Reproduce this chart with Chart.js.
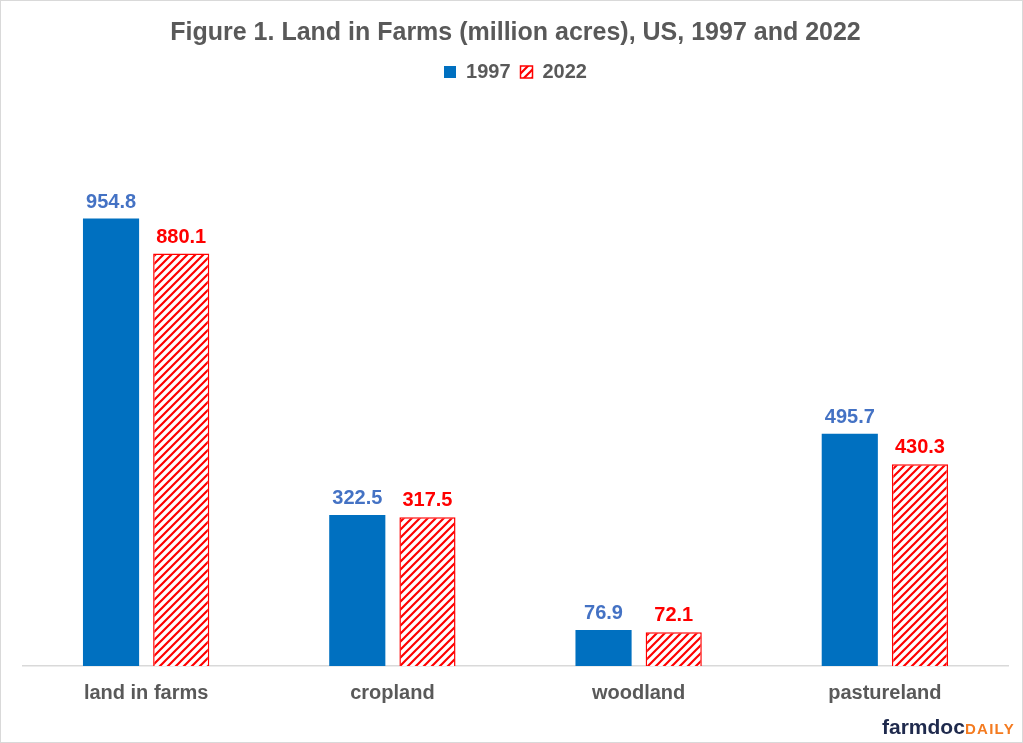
<!DOCTYPE html>
<html><head><meta charset="utf-8">
<script src="https://cdn.jsdelivr.net/npm/chart.js@4"></script>
<style>
html,body{margin:0;padding:0;background:#fff;}
#wrap{position:relative;width:1021px;height:741px;border:1px solid #d9d9d9;}
#c{position:absolute;left:0;top:0;}
#logo{position:absolute;right:7px;top:714px;font-family:"Liberation Sans",Arial,sans-serif;font-weight:bold;font-size:21px;color:#1f2a4d;white-space:nowrap;}
#logo span{color:#f47b20;font-size:15px;letter-spacing:1.3px;}
</style></head>
<body>
<div id="wrap"><canvas id="c" width="1021" height="741"></canvas><div id="logo">farmdoc<span>DAILY</span></div></div>
<script>
const categories = ["land in farms","cropland","woodland","pastureland"];
const values1997 = [954.8, 322.5, 76.9, 495.7];
const values2022 = [880.1, 317.5, 72.1, 430.3];
const seriesNames = ["1997","2022"];

function hatch(){
  const s=8, p=document.createElement('canvas');p.width=s;p.height=s;
  const g=p.getContext('2d');
  g.fillStyle='#fff';g.fillRect(0,0,s,s);
  g.strokeStyle='#ff0000';g.lineWidth=2.2;
  g.beginPath();
  g.moveTo(0,s);g.lineTo(s,0);
  g.moveTo(-s/2,s/2);g.lineTo(s/2,-s/2);
  g.moveTo(s/2,s+s/2);g.lineTo(s+s/2,s/2);
  g.stroke();
  return g.createPattern(p,'repeat');
}
const ctx=document.getElementById('c').getContext('2d');
const pat=hatch();

const labelPlugin={id:'vals',afterDatasetsDraw(chart){
  const c=chart.ctx;
  chart.data.datasets.forEach((ds,i)=>{
    chart.getDatasetMeta(i).data.forEach((bar,j)=>{
      c.save();
      c.font='bold 20px "Liberation Sans", Arial, sans-serif';
      c.fillStyle=i===0?'#4472C4':'#FF0000';
      c.textAlign='center';c.textBaseline='alphabetic';
      c.fillText(ds.data[j].toFixed(1),bar.x,bar.y-11);
      c.restore();
    });
  });
}};

new Chart(ctx,{
  type:'bar',
  data:{labels:categories,datasets:[
    {label:seriesNames[0],data:values1997,backgroundColor:'#0070C0',borderWidth:0,barPercentage:0.8,categoryPercentage:0.57},
    {label:seriesNames[1],data:values2022,backgroundColor:pat,borderColor:'#FF0000',borderWidth:1.5,barPercentage:0.8,categoryPercentage:0.57}
  ]},
  options:{
    responsive:false,animation:false,
    layout:{padding:{left:22,right:14,top:0,bottom:22}},
    plugins:{
      title:{display:true,text:'Figure 1. Land in Farms (million acres), US, 1997 and 2022',color:'#595959',font:{family:'"Liberation Sans", Arial, sans-serif',size:25,weight:'bold'},padding:{top:17,bottom:4}},
      legend:{display:true,labels:{color:'#595959',font:{family:'"Liberation Sans", Arial, sans-serif',size:20,weight:'bold'},boxWidth:12,boxHeight:12,padding:10}},
      tooltip:{enabled:false}
    },
    scales:{
      x:{grid:{display:false,drawTicks:false},border:{display:true,color:'#d9d9d9',width:1.5},
         ticks:{color:'#595959',padding:15,font:{family:'"Liberation Sans", Arial, sans-serif',size:20,weight:'bold'}}},
      y:{display:false,min:0,max:1225,beginAtZero:true}
    }
  },
  plugins:[labelPlugin]
});
</script>
</body></html>
